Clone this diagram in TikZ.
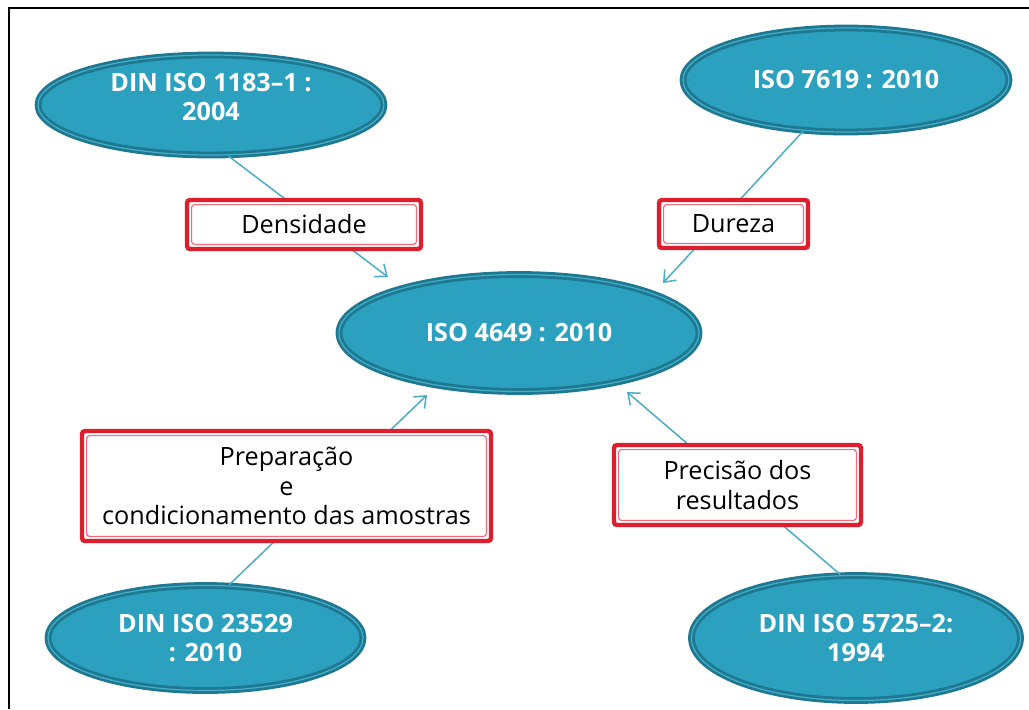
\documentclass[tikz,border=0pt]{standalone}
\usepackage{fontspec}
\setmainfont{Open Sans}
\usepackage{tikz}
\usetikzlibrary{shapes.geometric}
\usetikzlibrary{arrows.meta}
\definecolor{normteal}{RGB}{43,161,191}
\definecolor{normrim}{RGB}{30,120,145}
\definecolor{normstrip}{RGB}{70,175,200}
\definecolor{boxred}{RGB}{222,30,45}
\definecolor{boxpink}{RGB}{235,110,125}
\definecolor{linkblue}{RGB}{75,172,198}

\tikzset{
	norm/.style={ellipse, fill=normteal, draw=normrim, line width=1.4pt, double=normstrip, double distance=0.6pt, inner sep=0pt, text=white, align=center, font=\fontsize{12.6}{14.6}\selectfont\bfseries},
	topic/.style={rectangle, rounded corners=1.5pt, fill=white, draw=boxred, line width=2.2pt, inner sep=0pt, align=center, font=\fontsize{12.6}{14.8}\selectfont,
		path picture={\draw[boxpink, line width=0.6pt] ([shift={(2.3pt,2.3pt)}]path picture bounding box.south west) rectangle ([shift={(-2.3pt,-2.3pt)}]path picture bounding box.north east);}},
	link/.style={draw=linkblue, line width=0.75pt, -{Straight Barb[length=5pt,width=8pt]}}
}

\begin{document}
\begin{tikzpicture}[x=0.5pt,y=-0.5pt]
	\useasboundingbox (0,0) rectangle (1029,709);
	\draw[line width=1pt] (9,709) -- (9,8) -- (1029,8);
	\node[norm, minimum width=173pt, minimum height=50pt, text depth=8pt] (din1183) at (211,105) {DIN ISO 1183--1 :\\2004};
	\node[norm, minimum width=163pt, minimum height=52pt] (iso7619) at (846,80) {ISO 7619 : 2010};
	\node[norm, minimum width=180pt, minimum height=58.5pt] (iso4649) at (519,333) {ISO 4649 : 2010};
	\node[norm, minimum width=157.5pt, minimum height=52.5pt] (din23529) at (205.5,638) {DIN ISO 23529\\: 2010};
	\node[norm, minimum width=164.5pt, minimum height=62.5pt] (din5725) at (856,638) {DIN ISO 5725--2:\\1994};
	\coordinate (tipdens) at (388,277);
	\coordinate (tipdur) at (663,283);
	\coordinate (tipprep) at (427,395);
	\coordinate (tipprec) at (627,392);
	\draw[link] (din1183.-71) -- (tipdens);
	\draw[link] (iso7619.-130) -- (tipdur);
	\draw[link] (din23529.66) -- (tipprep);
	\draw[link] (din5725.104) -- (tipprec);
	\node[topic, minimum width=117pt, minimum height=24.5pt] (dens) at (304,224.5) {Densidade};
	\node[topic, minimum width=74.5pt, minimum height=24pt] (dur) at (733.5,224) {Dureza};
	\node[topic, minimum width=204.5pt, minimum height=55pt] (prep) at (286.5,486) {Preparação\\e\\condicionamento das amostras};
	\node[topic, minimum width=123.5pt, minimum height=40pt] (prec) at (737.5,485) {Precisão dos\\resultados};
\end{tikzpicture}
\end{document}
